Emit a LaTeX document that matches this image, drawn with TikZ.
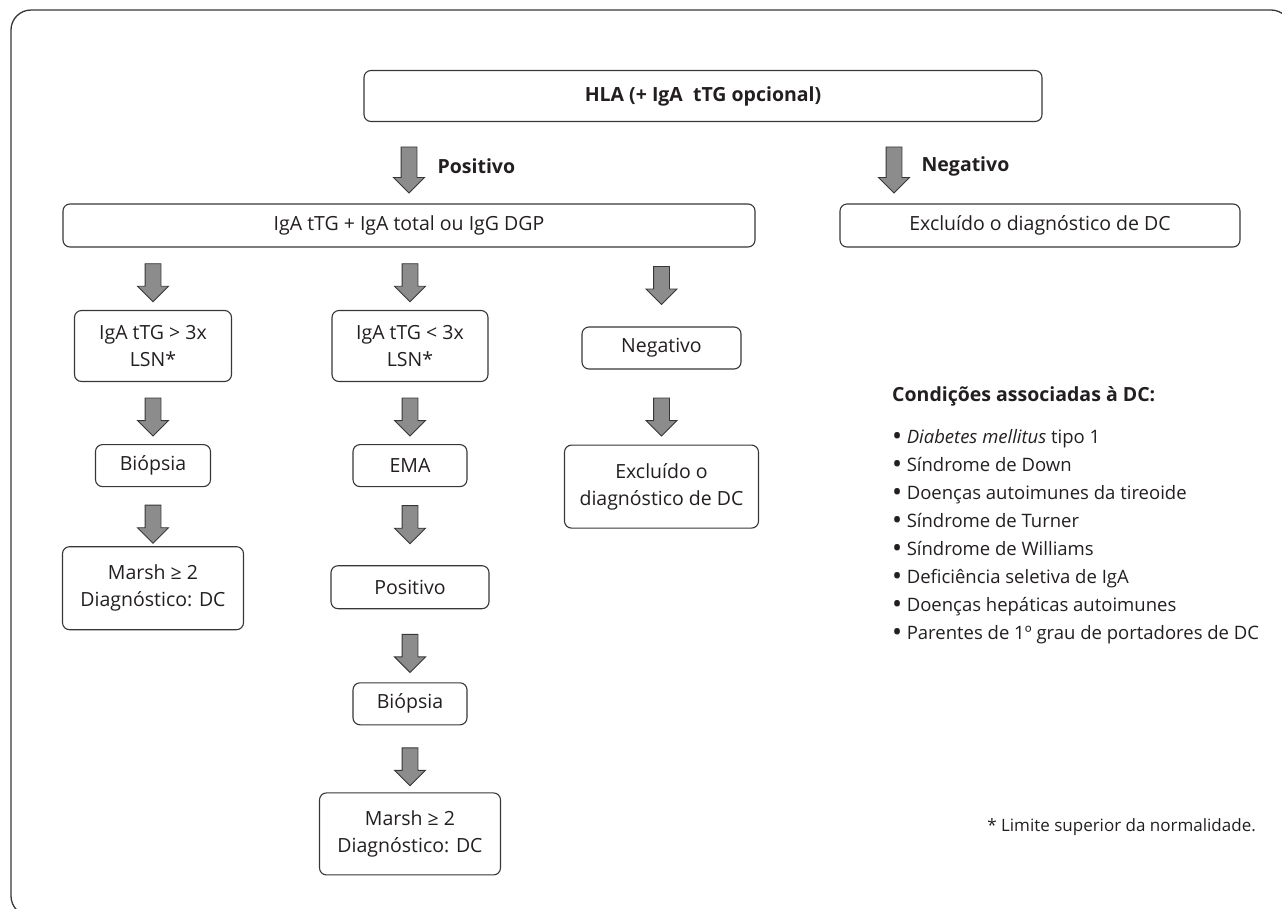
\documentclass[tikz,border=0pt]{standalone}
\usepackage{fontspec}
\setmainfont{Open Sans}
\usetikzlibrary{positioning, shapes.arrows, calc}
\definecolor{boxline}{RGB}{55,55,55}
\definecolor{arrowfill}{RGB}{140,140,140}
\definecolor{txt}{RGB}{35,31,32}
\tikzset{
  box/.style={rectangle, rounded corners=7pt, draw=boxline, line width=1.1pt, fill=white,
    align=center, inner sep=2pt, text=txt, font=\fontsize{19.5}{27}\selectfont},
  downarr/.style={single arrow, shape border rotate=270, draw=boxline, fill=arrowfill,
    line width=0.9pt, minimum height=38pt, inner sep=7.5pt,
    single arrow head extend=7.5pt},
  tallarr/.style={downarr, minimum height=46pt},
  branch/.style={font=\bfseries\fontsize{19.5}{24}\selectfont, text=txt, inner sep=0pt},
  listitem/.style={font=\fontsize{18.5}{28}\selectfont, text=txt, inner sep=0pt},
}
\newcommand{\listdot}{\raisebox{-2.8pt}{\scalebox{1.45}{•}}}

\begin{document}
\begin{tikzpicture}[x=1pt, y=-1pt]
    \useasboundingbox (0,0) rectangle (1282,908);
    \draw[boxline, line width=1.3pt, rounded corners=20pt] (11,10) rectangle (1291,916);

    % top level
    \node[box, font=\bfseries\fontsize{19.5}{27}\selectfont, minimum width=678pt, minimum height=51pt] (hla) at (703,96) {HLA (+ IgA\ \ tTG opcional)};
    \node[box, minimum width=692pt, minimum height=43pt] (ttg) at (409,225.5) {IgA tTG + IgA total ou IgG DGP};
    \node[box, minimum width=400pt, minimum height=43pt] (excl) at (1040,225.5) {Excluído o diagnóstico de DC};
    \coordinate (negx) at (894,0);

    % first column
    \node[box, minimum width=157pt, minimum height=71pt] (high) at (153,346) {IgA tTG > 3x\\LSN*};
    \node[box, minimum width=115pt, minimum height=42pt, below=62pt of high] (biop1) {Biópsia};
    \node[box, minimum width=181pt, minimum height=83pt, below=59pt of biop1] (marsh1) {Marsh ≥ 2\\Diagnóstico: DC};

    % second column
    \node[box, minimum width=156pt, minimum height=71pt] (low) at (410,346) {IgA tTG < 3x\\LSN*};
    \node[box, minimum width=114pt, minimum height=42pt, below=62pt of low] (ema) {EMA};
    \node[box, minimum width=158pt, minimum height=43pt, below=78pt of ema] (pos) {Positivo};
    \node[box, minimum width=114pt, minimum height=42pt, below=73pt of pos] (biop2) {Biópsia};
    \node[box, minimum width=181pt, minimum height=82pt, below=67pt of biop2] (marsh2) {Marsh ≥ 2\\Diagnóstico: DC};

    % third column
    \node[box, minimum width=159pt, minimum height=42pt] (neg) at (661.5,348) {Negativo};
    \node[box, minimum width=194pt, minimum height=83pt, below=75pt of neg] (excl2) {Excluído o\\diagnóstico de DC};

    % block arrows
    \path (hla.south -| ttg) -- node[tallarr, pos=.54, label={[branch, label distance=20pt]right:Positivo}] (arrpos) {} (ttg.north);
    \path (hla.south -| negx) -- node[tallarr, pos=.54, label={[branch, label distance=19pt]right:Negativo}] (arrneg) {} (excl.north -| negx);
    \path (ttg.south -| high) -- node[downarr] (a1) {} (high.north);
    \path (ttg.south -| low) -- node[downarr] (a2) {} (low.north);
    \path (ttg.south -| neg) -- node[downarr, pos=.43] (a3) {} (neg.north);
    \path (high) -- node[downarr] (a4) {} (biop1);
    \path (biop1.south) -- node[downarr, pos=.56] (a5) {} (marsh1.north);
    \path (low) -- node[downarr] (a6) {} (ema);
    \path (ema.south) -- node[downarr, pos=.43] (a7) {} (pos.north);
    \path (pos.south) -- node[downarr, pos=.55] (a8) {} (biop2.north);
    \path (biop2.south) -- node[downarr, pos=.56] (a9) {} (marsh2.north);
    \path (neg.south) -- node[downarr, pos=.58] (a10) {} (excl2.north);

    % conditions
    \node[branch, anchor=base west] (condtitle) at (892,401) {Condições associadas à DC:};
    \foreach \cond [count=\i] in {{\textit{Diabetes mellitus} tipo 1}, Síndrome de Down,
        Doenças autoimunes da tireoide, Síndrome de Turner, Síndrome de Williams,
        Deficiência seletiva de IgA, Doenças hepáticas autoimunes,
        Parentes de 1º grau de portadores de DC}
      \node[listitem, anchor=base west] (cond\i) at (892,415+28*\i) {\listdot\hspace{4.5pt}\cond};
    \node[listitem, anchor=base east, font=\fontsize{17}{20}\selectfont] (note) at (1256,831) {* Limite superior da normalidade.};
\end{tikzpicture}
\end{document}
